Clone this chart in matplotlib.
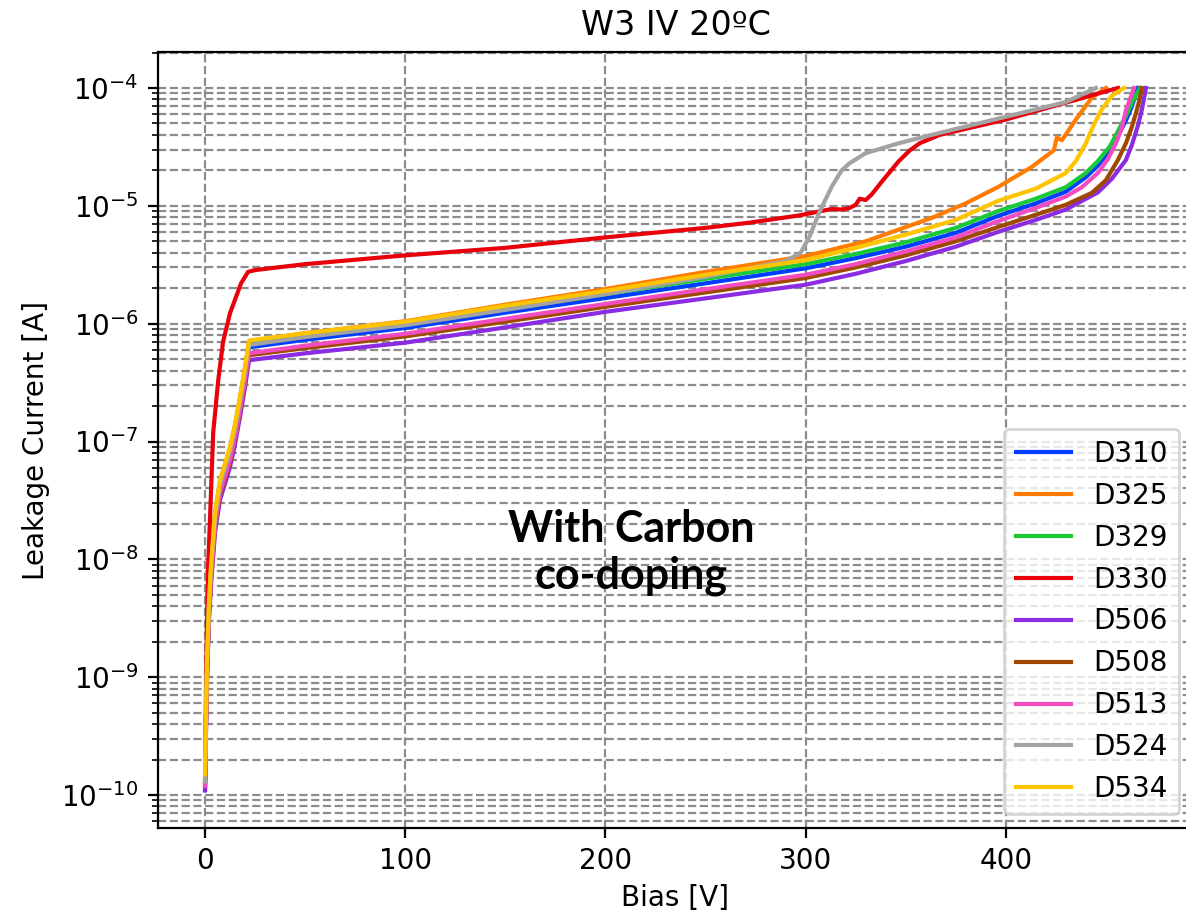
import numpy as np
import matplotlib.pyplot as plt

# IV sweeps, bias in V, leakage current in A
low_bias = [0, 0.5, 1, 2, 3, 5, 7.5, 10, 12.5, 15, 17.5, 20, 22]
mid_bias = [50, 100, 150, 200, 250, 300]

d310_bias = low_bias + mid_bias + [325, 350, 375, 396, 415, 430, 440, 446, 452, 456, 460, 463, 466]
d310_curr = [1.1e-10, 4.5e-10, 1.25e-9, 4e-9, 7.9e-9, 2.2e-8, 4.1e-8, 5.7e-8, 7.9e-8, 1.23e-7, 2.1e-7, 3.8e-7, 6.3e-7,
             7.3e-7, 9.2e-7, 1.24e-6, 1.65e-6, 2.2e-6, 2.95e-6,
             3.6e-6, 4.5e-6, 5.9e-6, 8.2e-6, 1.05e-5, 1.32e-5, 1.75e-5, 2.2e-5, 2.95e-5, 3.9e-5, 5.3e-5, 7e-5, 1.0e-4]

d325_bias = low_bias + mid_bias + [330, 363, 380, 396, 413, 424, 425.5, 428, 435, 443, 450]
d325_curr = [1.4e-10, 5e-10, 1.4e-9, 4.4e-9, 8.9e-9, 2.5e-8, 4.6e-8, 6.4e-8, 8.9e-8, 1.38e-7, 2.37e-7, 4.25e-7, 7.1e-7,
             8.3e-7, 1.05e-6, 1.45e-6, 1.97e-6, 2.75e-6, 3.75e-6,
             5.0e-6, 7.9e-6, 1.05e-5, 1.44e-5, 2.14e-5, 2.96e-5, 3.8e-5, 3.6e-5, 5.4e-5, 8.3e-5, 1.0e-4]

d329_bias = low_bias + mid_bias + [325, 350, 375, 396, 415, 430, 440, 446, 452, 456, 460, 463, 467]
d329_curr = [1.3e-10, 4.8e-10, 1.35e-9, 4.3e-9, 8.6e-9, 2.4e-8, 4.5e-8, 6.2e-8, 8.6e-8, 1.34e-7, 2.3e-7, 4.1e-7, 6.9e-7,
             7.9e-7, 9.9e-7, 1.33e-6, 1.78e-6, 2.4e-6, 3.2e-6,
             3.9e-6, 4.9e-6, 6.5e-6, 9.0e-6, 1.15e-5, 1.44e-5, 1.9e-5, 2.4e-5, 3.2e-5, 4.3e-5, 5.8e-5, 7.5e-5, 1.0e-4]

d330_bias = [0, 0.5, 1, 1.6, 2.9, 4.1, 6.6, 9, 12.5, 15, 18, 21.5, 25, 50, 100, 150, 200, 250, 272, 297, 313, 318,
             322, 325, 327, 330, 333, 338, 346.6, 352, 357, 367, 400, 438, 456]
d330_curr = [1.2e-10, 8e-10, 3e-9, 9e-9, 3.4e-8, 1.2e-7, 3.3e-7, 7e-7, 1.23e-6, 1.6e-6, 2.2e-6, 2.75e-6, 2.85e-6,
             3.2e-6, 3.8e-6, 4.4e-6, 5.4e-6, 6.5e-6, 7.2e-6, 8.3e-6, 9.4e-6, 9.3e-6, 9.6e-6, 1.02e-5, 1.15e-5,
             1.12e-5, 1.25e-5, 1.6e-5, 2.4e-5, 2.95e-5, 3.4e-5, 4.0e-5, 5.4e-5, 8.2e-5, 1.0e-4]

d506_bias = low_bias + mid_bias + [325, 350, 375, 396, 415, 430, 446, 453, 460, 463, 466, 468, 470]
d506_curr = [1.1e-10, 3.5e-10, 9.5e-10, 3.1e-9, 6.1e-9, 1.7e-8, 3.2e-8, 4.4e-8, 6.1e-8, 9.5e-8, 1.63e-7, 2.9e-7, 4.9e-7,
             5.6e-7, 6.9e-7, 9.3e-7, 1.26e-6, 1.64e-6, 2.14e-6,
             2.65e-6, 3.4e-6, 4.5e-6, 6.0e-6, 7.6e-6, 9.3e-6, 1.3e-5, 1.7e-5, 2.45e-5, 3.3e-5, 4.8e-5, 6.6e-5, 1.0e-4]

d508_bias = low_bias + mid_bias + [325, 350, 375, 396, 415, 430, 443, 450, 456, 460, 463, 466, 468]
d508_curr = [1.3e-10, 3.9e-10, 1.05e-9, 3.4e-9, 6.7e-9, 1.9e-8, 3.5e-8, 4.9e-8, 6.7e-8, 1.05e-7, 1.8e-7, 3.2e-7, 5.4e-7,
             6.2e-7, 7.8e-7, 1.04e-6, 1.39e-6, 1.84e-6, 2.44e-6,
             3.0e-6, 3.8e-6, 5.0e-6, 6.6e-6, 8.4e-6, 1.02e-5, 1.29e-5, 1.65e-5, 2.45e-5, 3.4e-5, 4.7e-5, 7e-5, 1.0e-4]

d513_bias = low_bias + mid_bias + [325, 350, 375, 396, 415, 430, 438, 446, 451, 455, 458, 460, 462, 464]
d513_curr = [1.2e-10, 4e-10, 1.1e-9, 3.5e-9, 7e-9, 1.95e-8, 3.7e-8, 5.1e-8, 7e-8, 1.09e-7, 1.87e-7, 3.35e-7, 5.6e-7,
             6.5e-7, 8.2e-7, 1.1e-6, 1.47e-6, 1.96e-6, 2.6e-6,
             3.2e-6, 4.1e-6, 5.4e-6, 7.4e-6, 9.6e-6, 1.2e-5, 1.44e-5, 1.9e-5, 2.5e-5, 3.4e-5, 4.6e-5, 6.5e-5, 8e-5,
             1.0e-4]

d524_bias = low_bias + [50, 100, 150, 200, 250, 290, 297.5, 302, 306.7, 313, 318, 322, 330, 346.6, 363, 400, 430, 445]
d524_curr = [1.3e-10, 4.7e-10, 1.3e-9, 4.2e-9, 8.3e-9, 2.3e-8, 4.3e-8, 6e-8, 8.3e-8, 1.29e-7, 2.2e-7, 4e-7, 6.6e-7,
             7.7e-7, 9.7e-7, 1.31e-6, 1.78e-6, 2.5e-6, 3.4e-6, 4.0e-6, 5.5e-6, 8.7e-6, 1.45e-5, 2.0e-5, 2.3e-5,
             2.8e-5, 3.4e-5, 4.0e-5, 5.7e-5, 7.6e-5, 1.0e-4]

d534_bias = low_bias + mid_bias + [325, 350, 375, 396, 415, 430, 435, 440, 444, 448, 453, 459]
d534_curr = [1.5e-10, 5e-10, 1.4e-9, 4.5e-9, 9e-9, 2.5e-8, 4.7e-8, 6.5e-8, 9e-8, 1.4e-7, 2.4e-7, 4.3e-7, 7.2e-7,
             8.3e-7, 1.04e-6, 1.42e-6, 1.9e-6, 2.6e-6, 3.46e-6,
             4.4e-6, 5.7e-6, 7.6e-6, 1.1e-5, 1.4e-5, 1.9e-5, 2.4e-5, 3.4e-5, 4.9e-5, 6.6e-5, 8.6e-5, 1.0e-4]

labels = ['D310', 'D325', 'D329', 'D330', 'D506', 'D508', 'D513', 'D524', 'D534']
biases = [d310_bias, d325_bias, d329_bias, d330_bias, d506_bias, d508_bias, d513_bias, d524_bias, d534_bias]
currents = [d310_curr, d325_curr, d329_curr, d330_curr, d506_curr, d508_curr, d513_curr, d524_curr, d534_curr]
colors = ['#023eff', '#ff7c00', '#1ac938', '#e8000b', '#8b2be2', '#9f4800', '#f14cc1', '#a3a3a3', '#ffc400']

fig = plt.figure(figsize=(5.93, 4.59), dpi=200)
ax = fig.add_axes([0.1332, 0.098, 0.8727, 0.8453])

for v, i, lab, c in zip(biases, currents, labels, colors):
    ax.plot(v, i, label=lab, color=c, lw=1.5)

ax.set_yscale('log')
ax.set_xlim(-23.5, 493.5)
ax.set_ylim(10**-10.28, 10**-3.695)
ax.grid(which='both', linestyle='--', color='#8c8c8c')

ax.set_title('W3 IV 20ºC')
ax.set_xlabel('Bias [V]', labelpad=3)
ax.set_ylabel('Leakage Current [A]')
ax.legend(loc='lower right')

ax.text(213, 1.15e-8, 'With Carbon\nco-doping', ha='center', va='center',
        fontsize=15.5, fontweight='bold', family='Lato', linespacing=1.2)

fig.savefig('out.png', dpi=200)
